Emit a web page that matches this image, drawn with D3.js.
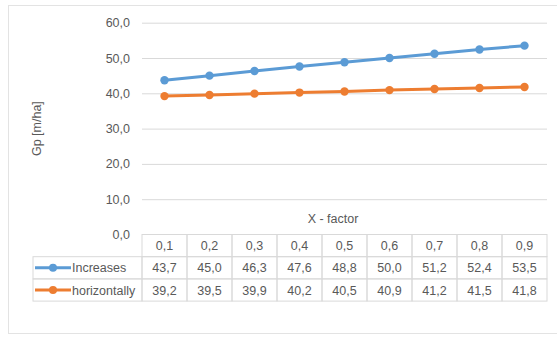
<!DOCTYPE html>
<html>
<head>
<meta charset="utf-8">
<script src="https://cdn.jsdelivr.net/npm/d3@7"></script>
<style>
  html, body { margin: 0; padding: 0; background: #fff; }
  svg { display: block; font-family: "Liberation Sans", Arial, sans-serif; }
</style>
</head>
<body>
<svg id="chart" width="557" height="338"></svg>
<script>
// X-factor categories and the two Gp series
const categories = ["0,1", "0,2", "0,3", "0,4", "0,5", "0,6", "0,7", "0,8", "0,9"];
const increases = [43.7, 45.0, 46.3, 47.6, 48.8, 50.0, 51.2, 52.4, 53.5];
const horizontally = [39.2, 39.5, 39.9, 40.2, 40.5, 40.9, 41.2, 41.5, 41.8];
const seriesNames = ["Increases", "horizontally"];
const yTicks = [0, 10, 20, 30, 40, 50, 60];

const colors = ["#5b9bd5", "#ed7d31"];
const textColor = "#595959";
const gridColor = "#d9d9d9";
const fmt = v => v.toFixed(1).replace(".", ",");

const svg = d3.select("#chart");

// chart frame
svg.append("rect")
  .attr("x", 8.5).attr("y", 5.5)
  .attr("width", 560).attr("height", 328)
  .attr("fill", "#fff").attr("stroke", "#e3e3e3");

const plot = { left: 142, right: 547, top: 22.7, bottom: 234.5 };

const x = d3.scaleBand().domain(categories).range([plot.left, plot.right]);
const y = d3.scaleLinear().domain([0, 60]).range([plot.bottom, plot.top]);

// horizontal gridlines + tick labels
const yAxis = d3.axisLeft(y).tickValues(yTicks).tickFormat(fmt)
  .tickSize(-(plot.right - plot.left)).tickPadding(12);
const gy = svg.append("g").attr("transform", `translate(${plot.left},0)`).call(yAxis);
gy.select(".domain").remove();
gy.selectAll(".tick line").attr("stroke", gridColor).attr("stroke-width", 1)
  .filter(d => d === 0).remove();
gy.selectAll(".tick text").attr("fill", textColor).attr("font-size", 12.5)
  .attr("x", -12);

// axis titles
svg.append("text")
  .attr("transform", `translate(41,${(plot.top + plot.bottom) / 2}) rotate(-90)`)
  .attr("text-anchor", "middle").attr("fill", textColor).attr("font-size", 12.5)
  .text("Gp [m/ha]");
svg.append("text")
  .attr("x", 333).attr("y", 223)
  .attr("text-anchor", "middle").attr("fill", textColor).attr("font-size", 12.5)
  .text("X - factor");

// series lines and markers
const series = [increases, horizontally];
const line = d3.line()
  .x((d, i) => x(categories[i]) + x.bandwidth() / 2)
  .y(d => y(d));

series.forEach((vals, s) => {
  svg.append("path").datum(vals)
    .attr("fill", "none").attr("stroke", colors[s])
    .attr("stroke-width", 3).attr("stroke-linejoin", "round")
    .attr("d", line);
  svg.append("g").selectAll("circle").data(vals).join("circle")
    .attr("cx", (d, i) => x(categories[i]) + x.bandwidth() / 2)
    .attr("cy", d => y(d))
    .attr("r", 4.2)
    .attr("fill", colors[s]);
});

// data table under the plot
const rowH = 22.2;
const tableTop = plot.bottom;
const legendLeft = 33;
const table = svg.append("g");

// header row cells
categories.forEach((c, i) => {
  table.append("rect")
    .attr("x", x(c)).attr("y", tableTop)
    .attr("width", x.bandwidth()).attr("height", rowH)
    .attr("fill", "none").attr("stroke", gridColor);
  table.append("text")
    .attr("x", x(c) + x.bandwidth() / 2).attr("y", tableTop + rowH / 2 + 4.5)
    .attr("text-anchor", "middle").attr("fill", textColor).attr("font-size", 12.5)
    .text(c);
});

// series rows with legend keys
series.forEach((vals, s) => {
  const ry = tableTop + rowH * (s + 1);
  table.append("rect")
    .attr("x", legendLeft).attr("y", ry)
    .attr("width", plot.left - legendLeft).attr("height", rowH)
    .attr("fill", "none").attr("stroke", gridColor);
  table.append("line")
    .attr("x1", legendLeft + 2).attr("x2", legendLeft + 38)
    .attr("y1", ry + rowH / 2).attr("y2", ry + rowH / 2)
    .attr("stroke", colors[s]).attr("stroke-width", 3);
  table.append("circle")
    .attr("cx", legendLeft + 20).attr("cy", ry + rowH / 2).attr("r", 4)
    .attr("fill", colors[s]);
  table.append("text")
    .attr("x", legendLeft + 39).attr("y", ry + rowH / 2 + 4.5)
    .attr("fill", textColor).attr("font-size", 12.5)
    .text(seriesNames[s]);
  vals.forEach((v, i) => {
    const c = categories[i];
    table.append("rect")
      .attr("x", x(c)).attr("y", ry)
      .attr("width", x.bandwidth()).attr("height", rowH)
      .attr("fill", "none").attr("stroke", gridColor);
    table.append("text")
      .attr("x", x(c) + x.bandwidth() / 2).attr("y", ry + rowH / 2 + 4.5)
      .attr("text-anchor", "middle").attr("fill", textColor).attr("font-size", 12.5)
      .text(fmt(v));
  });
});
</script>
</body>
</html>
